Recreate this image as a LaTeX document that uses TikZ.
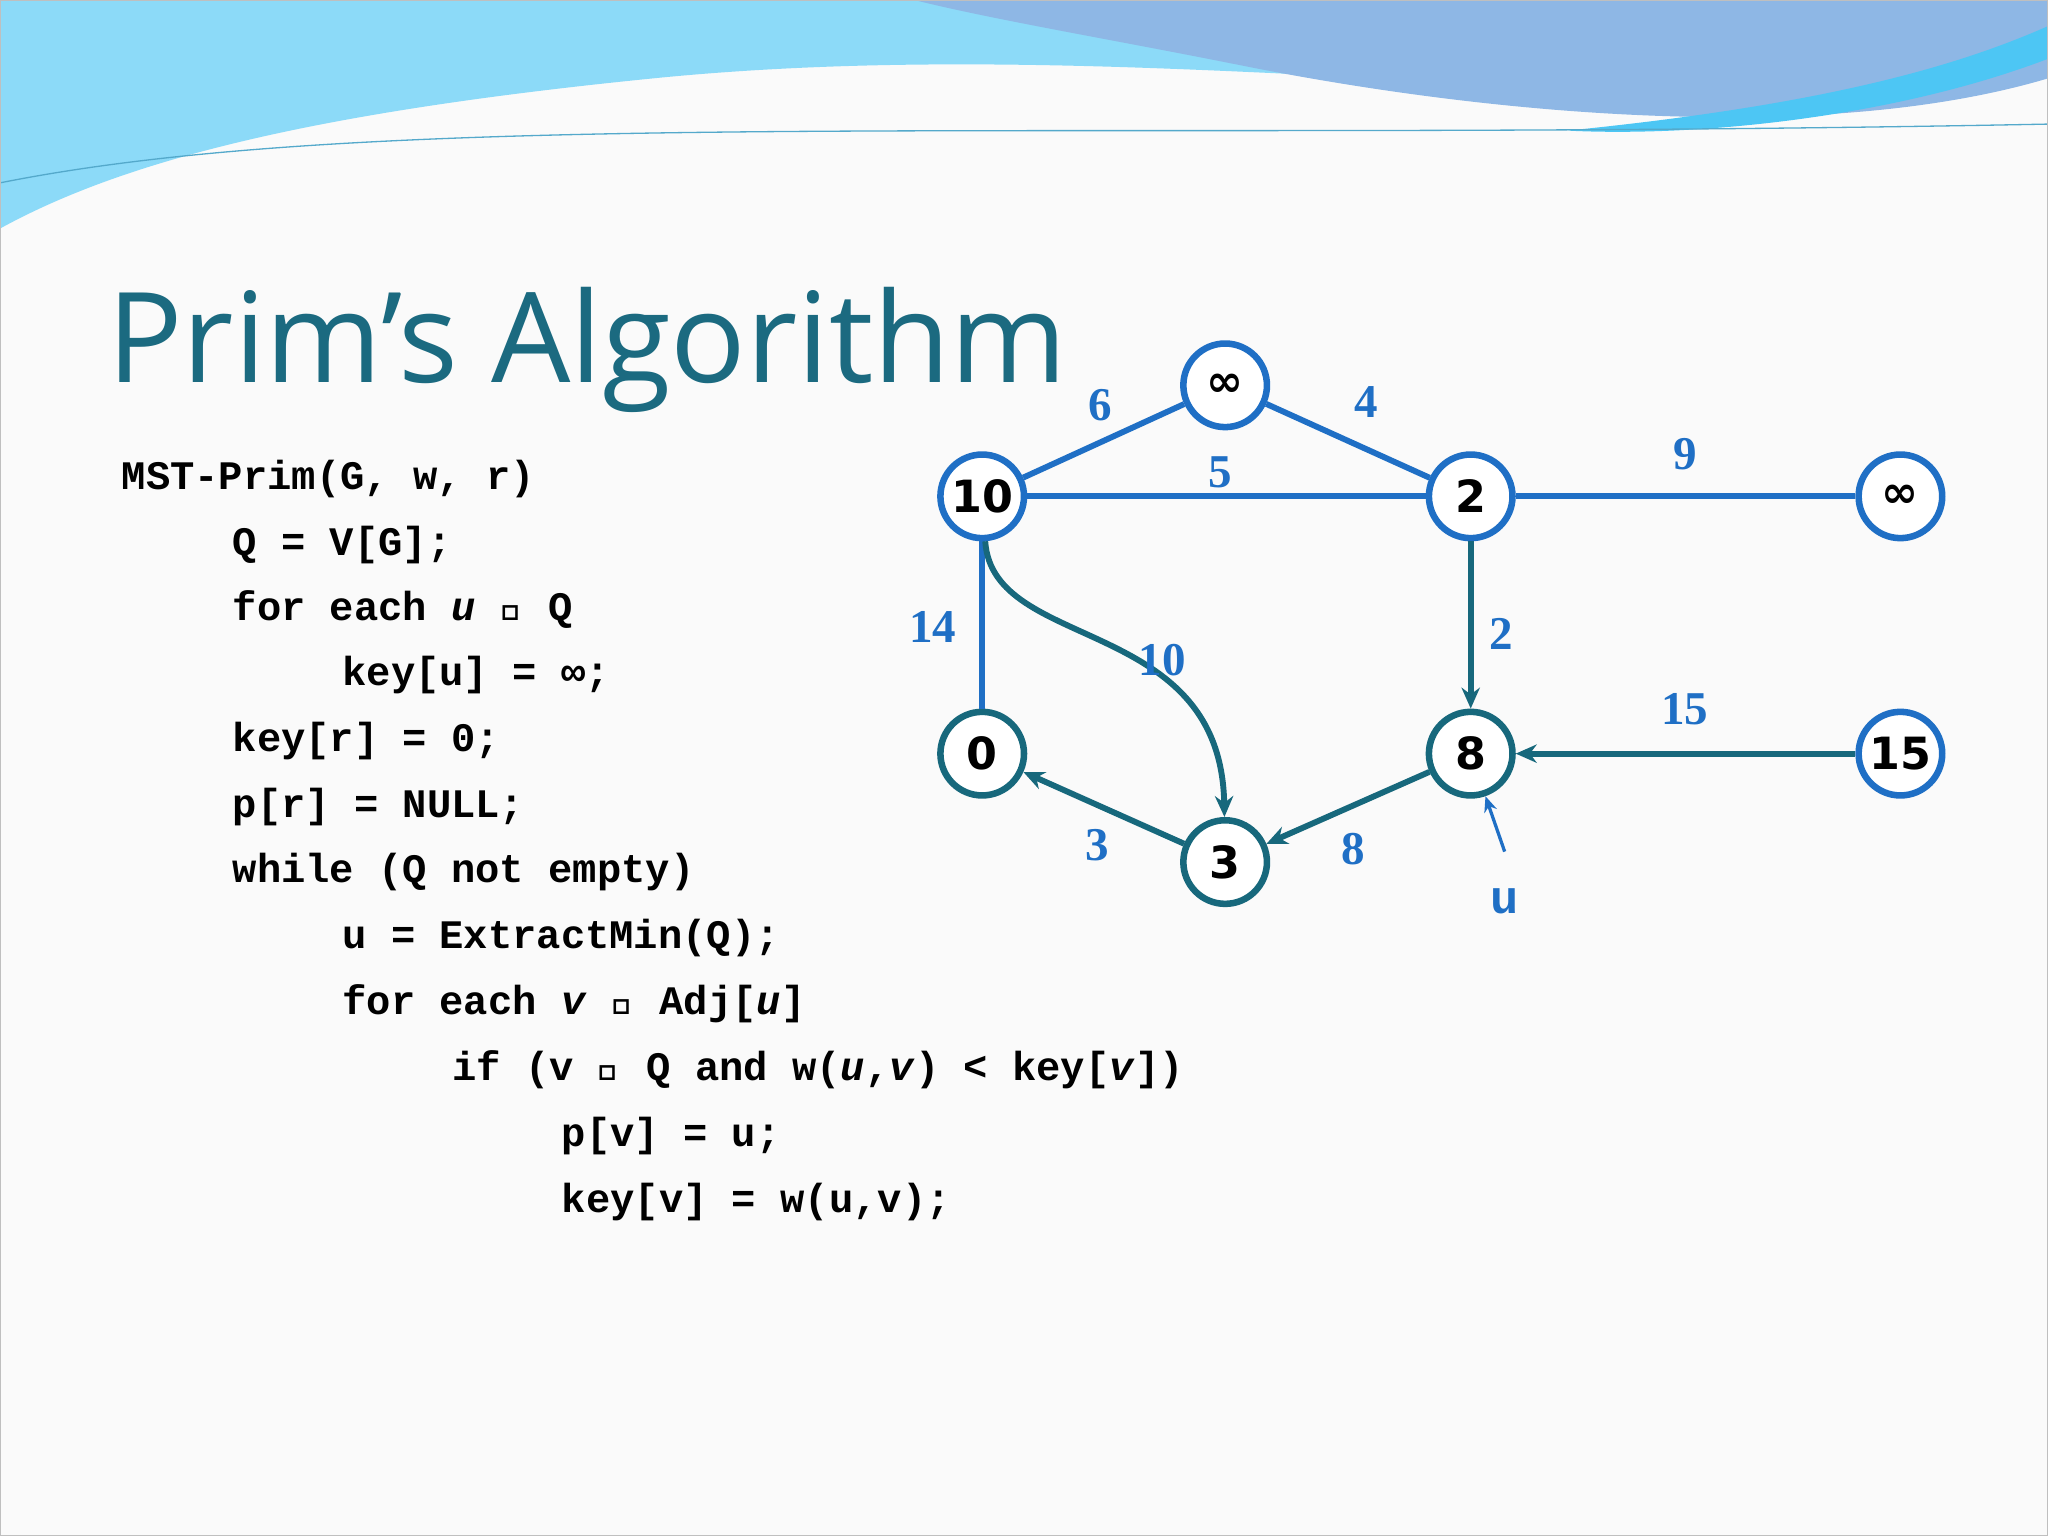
\documentclass[tikz,border=0pt]{standalone}
\usepackage{fontspec}
\usetikzlibrary{arrows.meta}
\setmainfont{Liberation Serif}
\newfontfamily\titlefont{Open Sans}
\newfontfamily\codefont{Liberation Mono}
\newfontfamily\nodefont{DejaVu Sans}
\definecolor{lb}{HTML}{1F6FC5}
\definecolor{dt}{HTML}{17687C}
\definecolor{tt}{HTML}{1B6A80}
\tikzset{
 vb/.style={circle,draw=lb,line width=5pt,fill=white,minimum size=64pt,inner sep=0pt,font=\nodefont\bfseries\fontsize{34}{40}\selectfont},
 vd/.style={vb,draw=dt},
 eb/.style={draw=lb,line width=4.5pt},
 ed/.style={draw=dt,line width=4.5pt,-{Stealth[length=16pt,width=14pt]}},
 wl/.style={text=lb,font=\bfseries\fontsize{36}{40}\selectfont},
 cl/.style={anchor=base west,inner sep=0pt,font=\codefont\bfseries\fontsize{31}{36}\selectfont}
}
\begin{document}
\begin{tikzpicture}[x=1pt,y=-1pt]
\useasboundingbox (0,0) rectangle (1568,1176);
\fill[white!96!gray] (0,0) rectangle (1568,1176);
% top waves
\fill[cyan!45!white] (0,0) -- (1568,0) -- (1568,40) .. controls (1300,110) and (900,20) .. (500,60) .. controls (250,85) and (100,120) .. (0,175) -- cycle;
\fill[cyan!60!blue!45!white] (700,0) -- (1568,0) -- (1568,60) .. controls (1400,110) and (1150,90) .. (950,50) .. controls (850,30) and (760,15) .. (700,0) -- cycle;
\fill[cyan!70!white] (1200,100) .. controls (1400,80) and (1500,50) .. (1568,20) -- (1568,45) .. controls (1450,90) and (1300,105) .. (1200,100) -- cycle;
\draw[cyan!60!gray,line width=1pt] (0,140) .. controls (300,80) and (800,110) .. (1568,95);
\draw[gray!50,line width=1pt] (0.5,0.5) rectangle (1567.5,1175.5);
% title
\node[anchor=base west,inner sep=0pt,text=tt,font=\titlefont\fontsize{96}{100}\selectfont] (title) at (82,293) {Prim’s Algorithm};
% code
\node[cl] (c1) at (93,375) {MST-Prim(G, w, r)};
\node[cl] (c2) at (178,425) {Q = V[G];};
\node[cl] (c3) at (178,475) {for each \textit{u} ∈ Q};
\node[cl] (c4) at (262,525) {key[u] = ∞;};
\node[cl] (c5) at (178,575) {key[r] = 0;};
\node[cl] (c6) at (178,626) {p[r] = NULL;};
\node[cl] (c7) at (178,676) {while (Q not empty)};
\node[cl] (c8) at (262,726) {u = ExtractMin(Q);};
\node[cl] (c9) at (262,777) {for each \textit{v} ∈ Adj[\textit{u}]};
\node[cl] (c10) at (346,827) {if (v ∈ Q and w(\textit{u},\textit{v}) < key[\textit{v}])};
\node[cl] (c11) at (430,878) {p[v] = u;};
\node[cl] (c12) at (430,928) {key[v] = w(u,v);};
% graph
\node[vb] (ni) at (938,295) {∞};
\node[vb] (n10) at (752,380) {10};
\node[vb] (n2) at (1126,380) {2};
\node[vb] (nr) at (1455,380) {∞};
\node[vd] (n0) at (752,577) {0};
\node[vd] (n3) at (938,660) {3};
\node[vd] (n8) at (1126,577) {8};
\node[vb] (n15) at (1455,577) {15};
\draw[eb] (n10) -- (ni);
\draw[eb] (ni) -- (n2);
\draw[eb] (n10) -- (n2);
\draw[eb] (n2) -- (nr);
\draw[eb] (n10) -- (n0);
\draw[ed] (n10) .. controls (760,500) and (935,470) .. (n3);
\draw[ed] (n2) -- (n8);
\draw[ed] (n15) -- (n8);
\draw[ed] (n8) -- (n3);
\draw[ed] (n3) -- (n0);
\coordinate (ut) at (1152,652);
\draw[lb,line width=2.5pt,-{Stealth[length=12pt,width=10pt]}] (ut) -- (n8);
\node[wl] (l6) at (842,310) {6};
\node[wl] (l4) at (1046,308) {4};
\node[wl] (l5) at (934,362) {5};
\node[wl] (l9) at (1290,348) {9};
\node[wl] (l14) at (714,480) {14};
\node[wl] (l10) at (890,505) {10};
\node[wl] (l2) at (1149,485) {2};
\node[wl] (l15) at (1290,543) {15};
\node[wl] (l3) at (840,647) {3};
\node[wl] (l8) at (1036,650) {8};
\node[text=lb,font=\codefont\bfseries\fontsize{36}{40}\selectfont] (lu) at (1152,690) {u};
\end{tikzpicture}
\end{document}
